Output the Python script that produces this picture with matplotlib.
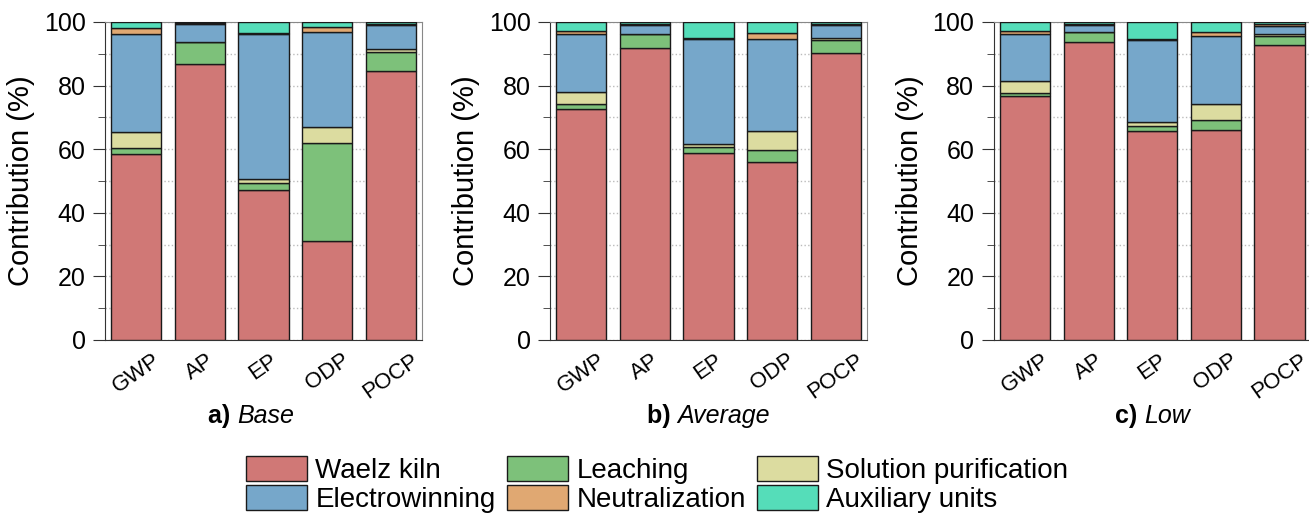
import numpy as np
import matplotlib
matplotlib.use('Agg')
import matplotlib.pyplot as plt
import matplotlib.transforms as mtransforms
from matplotlib.ticker import MultipleLocator

plt.rcParams['font.family'] = ['Liberation Sans', 'DejaVu Sans']

categories = ['GWP', 'AP', 'EP', 'ODP', 'POCP']
processes = ['Waelz kiln', 'Leaching', 'Solution purification',
             'Electrowinning', 'Neutralization', 'Auxiliary units']
colors = ['#D07876', '#7DC17A', '#DCDCA0', '#76A7CA', '#E0A872', '#55DDB9']

# contributions (%) per scenario, rows = processes (bottom to top), cols = categories
base = [
    [58.4, 86.8, 47.1, 31.0, 84.7],
    [2.0, 6.9, 2.3, 31.0, 5.9],
    [5.1, 0.1, 1.2, 4.9, 1.0],
    [30.7, 5.7, 45.7, 29.8, 7.5],
    [1.9, 0.2, 0.2, 1.7, 0.3],
    [1.9, 0.3, 3.5, 1.6, 0.6],
]
average = [
    [72.7, 91.8, 58.7, 56.0, 90.4],
    [1.4, 4.3, 2.1, 3.9, 4.0],
    [4.0, 0.2, 0.8, 5.9, 0.7],
    [18.1, 2.8, 33.0, 29.0, 4.0],
    [1.1, 0.4, 0.3, 1.7, 0.3],
    [2.7, 0.5, 5.1, 3.5, 0.6],
]
low = [
    [76.7, 93.7, 65.7, 66.0, 92.7],
    [1.1, 3.1, 1.6, 3.1, 3.0],
    [3.5, 0.2, 1.2, 5.0, 0.6],
    [14.9, 1.9, 25.9, 21.4, 2.5],
    [1.1, 0.5, 0.2, 1.4, 0.5],
    [2.7, 0.6, 5.4, 3.1, 0.7],
]
scenarios = [('a)', 'Base', base), ('b)', 'Average', average), ('c)', 'Low', low)]
title_centers = [0.46, 0.5, 0.5]

fig = plt.figure(figsize=(13.09, 5.2), dpi=100)
lefts = [0.0802, 0.4202, 0.7592]
x = np.arange(len(categories))
shift = mtransforms.ScaledTranslation(-7 / 100, 0, fig.dpi_scale_trans)
handles = []
titles = []
for i, (tag, name, data) in enumerate(scenarios):
    ax = fig.add_axes([lefts[i], 0.3462, 0.2422, 0.6115])
    bottom = np.zeros(len(categories))
    for j, proc in enumerate(processes):
        vals = np.array(data[j])
        b = ax.bar(x, vals, 0.79, bottom=bottom, color=colors[j],
                   edgecolor='#1a1a1a', linewidth=1.0, label=proc, zorder=3)
        bottom += vals
        if i == 0:
            handles.append(b)
    ax.set_xlim(-0.49, 4.49)
    ax.set_ylim(0, 100)
    ax.yaxis.set_major_locator(MultipleLocator(20))
    ax.yaxis.set_minor_locator(MultipleLocator(10))
    ax.grid(axis='y', which='both', linestyle=':', color='#bbbbbb', linewidth=1, zorder=0)
    ax.set_xticks(x)
    ax.set_xticklabels(categories, rotation=35, ha='center', fontsize=16)
    for lab in ax.get_xticklabels():
        lab.set_transform(lab.get_transform() + shift)
    ax.tick_params(axis='y', which='major', direction='out', length=9, pad=5,
                   labelsize=18, color='#333333')
    ax.tick_params(axis='y', which='minor', direction='out', length=5, color='#333333')
    ax.tick_params(axis='x', length=0, pad=7)
    for s in ['top', 'right']:
        ax.spines[s].set_color('#888888')
    ax.spines['left'].set_color('#333333')
    ax.spines['bottom'].set_color('#333333')
    ax.set_ylabel('Contribution (%)', fontsize=21, labelpad=6)
    t1 = ax.text(0, -0.26, tag + ' ', transform=ax.transAxes, fontsize=18,
                 fontweight='bold', ha='left', va='baseline')
    t2 = ax.text(0, -0.26, name, transform=ax.transAxes, fontsize=18,
                 fontstyle='italic', ha='left', va='baseline')
    titles.append((ax, t1, t2, title_centers[i]))

# center the two-part panel captions
fig.canvas.draw()
r = fig.canvas.get_renderer()
for ax, t1, t2, c in titles:
    axw = ax.get_window_extent(r).width
    w1 = t1.get_window_extent(r).width / axw
    w2 = t2.get_window_extent(r).width / axw
    start = c - (w1 + w2) / 2
    t1.set_x(start)
    t2.set_x(start + w1)

order = [0, 3, 1, 4, 2, 5]
fig.legend([handles[k] for k in order], [processes[k] for k in order],
           ncol=3, loc='center', bbox_to_anchor=(0.502, 0.068), frameon=False,
           fontsize=20, handlelength=2.2, handleheight=1.0,
           columnspacing=0.4, handletextpad=0.3, labelspacing=0.05,
           borderpad=0.1)

fig.savefig('out.png', dpi=100)
